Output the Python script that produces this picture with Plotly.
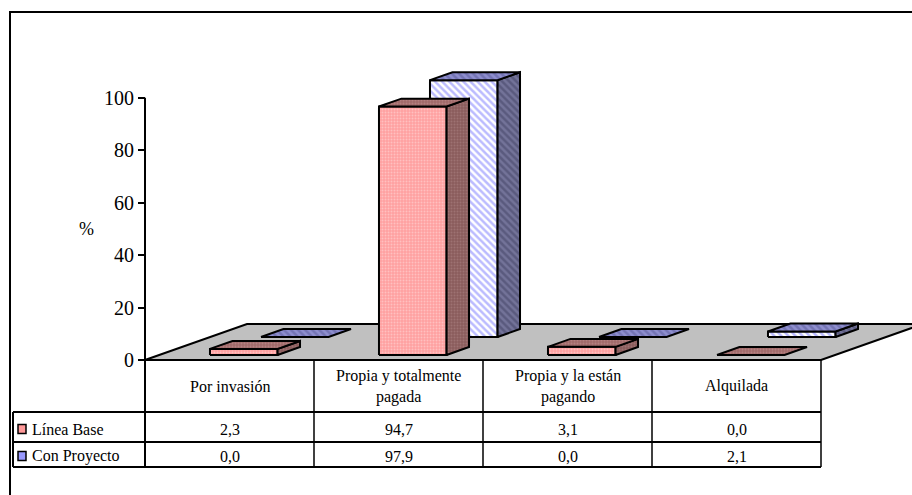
import plotly.graph_objects as go

# ---- data ----
categories = ["Por invasión", "Propia y totalmente<br>pagada", "Propia y la están<br>pagando", "Alquilada"]
series_names = ["Línea Base", "Con Proyecto"]
linea_base = [2.3, 94.7, 3.1, 0.0]
con_proyecto = [0.0, 97.9, 0.0, 2.1]
y_ticks = [0, 20, 40, 60, 80, 100]

W, H = 912, 495
FONT = "Times New Roman, Liberation Serif, serif"

# pixel layout of the value axis / category axis
AX_X = 145.0          # left edge of the category axis (px)
CAT_W = 169.0         # width of one category (px)
ZERO_Y = 360.0        # pixel row of value 0
PX_PER_UNIT = 2.623   # pixels per percentage point
DEPTH_PX = (102.0, -36.0)  # oblique offset of the floor depth (px)

# convert to data units
x_range = [(0 - AX_X) / CAT_W, (W - AX_X) / CAT_W]
y_range = [(ZERO_Y - H) / PX_PER_UNIT, ZERO_Y / PX_PER_UNIT]
DU = DEPTH_PX[0] / CAT_W
DV = -DEPTH_PX[1] / PX_PER_UNIT


def px(x):
    return x / W


def py(y):
    return 1 - y / H


fig = go.Figure()


def face(xs, ys, bg, fg, shape, size=4, solidity=0.4, width=2):
    fig.add_trace(go.Scatter(
        x=xs + [xs[0]], y=ys + [ys[0]], mode="lines", fill="toself",
        fillcolor=bg,
        fillpattern=dict(shape=shape, bgcolor=bg, fgcolor=fg, size=size, solidity=solidity),
        line=dict(color="black", width=width),
        hoverinfo="skip", showlegend=False,
    ))


# floor
n = len(categories)
fig.add_trace(go.Scatter(
    x=[0, n, n + DU, DU, 0], y=[0, 0, DV, DV, 0], mode="lines", fill="toself",
    fillcolor="#C0C0C0", line=dict(color="black", width=2),
    hoverinfo="skip", showlegend=False,
))

styles = [
    # front, side, top (bg, fg, shape)
    dict(front=("#FFA0A0", "#FFE0E0", "."), side=("#8A5C5C", "#B08888", "."),
         top=("#A06A6A", "#C89898", "."), size=3, solidity=0.35),
    dict(front=("#FFFFFF", "#7878FF", "\\"), side=("#5A5A7E", "#8C8CB4", "\\"),
         top=("#7474B4", "#A8A8E8", "\\"), size=5, solidity=0.5),
]
series_values = [linea_base, con_proyecto]
depth_slots = [(0.14, 0.36), (0.64, 0.86)]
bar_lo, bar_hi = 0.30, 0.70

# back series first, then the front one
for s in (1, 0):
    d0, d1 = depth_slots[s]
    st = styles[s]
    for i, v in enumerate(series_values[s]):
        x0 = i + bar_lo + d0 * DU
        x1 = i + bar_hi + d0 * DU
        xb = i + bar_hi + d1 * DU
        xa = i + bar_lo + d1 * DU
        yb0 = d0 * DV
        yb1 = d1 * DV
        if v > 0:
            face([x0, x1, x1, x0], [yb0, yb0, yb0 + v, yb0 + v], *st["front"],
                 size=st["size"], solidity=st["solidity"])
            face([x1, xb, xb, x1], [yb0, yb1, yb1 + v, yb0 + v], *st["side"],
                 size=st["size"], solidity=st["solidity"])
        face([x0, x1, xb, xa], [yb0 + v, yb0 + v, yb1 + v, yb1 + v], *st["top"],
             size=st["size"], solidity=st["solidity"])

shapes = []
# value axis line, continuing as the table's left border
shapes.append(dict(type="line", xref="x", yref="y", x0=0, x1=0, y0=max(y_ticks),
                   y1=(ZERO_Y - 467) / PX_PER_UNIT, line=dict(color="black", width=2)))
# outer frame
shapes.append(dict(type="rect", xref="paper", yref="paper", x0=px(10), x1=px(940),
                   y0=py(12), y1=py(520), line=dict(color="black", width=2)))

# data table grid
row_lines = [412, 442, 467]
for yy in row_lines:
    shapes.append(dict(type="line", xref="paper", yref="paper", x0=px(13),
                       x1=px(AX_X + n * CAT_W), y0=py(yy), y1=py(yy),
                       line=dict(color="black", width=2)))
for i in range(1, n + 1):
    shapes.append(dict(type="line", xref="x", yref="paper", x0=i, x1=i,
                       y0=py(ZERO_Y), y1=py(467), line=dict(color="black", width=1.5)))
shapes.append(dict(type="line", xref="paper", yref="paper", x0=px(13), x1=px(13),
                   y0=py(412), y1=py(467), line=dict(color="black", width=2)))

# legend keys inside the table
key_colors = ["#FF9999", "#9999FF"]
row_centers = [429, 456]
for k, yc in enumerate(row_centers):
    shapes.append(dict(type="rect", xref="paper", yref="paper", x0=px(18), x1=px(26),
                       y0=py(yc - 4.5), y1=py(yc + 4.5), fillcolor=key_colors[k],
                       line=dict(color="black", width=1.5)))

annotations = []
# header row
for i, c in enumerate(categories):
    annotations.append(dict(x=i + 0.5, y=py(386), xref="x", yref="paper", text=c,
                            showarrow=False, font=dict(family=FONT, size=16, color="black"),
                            xanchor="center", yanchor="middle"))
# series rows
for k, (name, vals) in enumerate(zip(series_names, series_values)):
    annotations.append(dict(x=px(30), y=py(row_centers[k]), xref="paper", yref="paper",
                            text=name, showarrow=False, xanchor="left", yanchor="middle",
                            font=dict(family=FONT, size=16, color="black")))
    for i, v in enumerate(vals):
        annotations.append(dict(x=i + 0.5, y=py(row_centers[k]), xref="x", yref="paper",
                                text=f"{v:.1f}".replace(".", ","), showarrow=False,
                                xanchor="center", yanchor="middle",
                                font=dict(family=FONT, size=16, color="black")))
# axis title
annotations.append(dict(x=px(77), y=py(229), xref="paper", yref="paper", text="%",
                        showarrow=False, font=dict(family=FONT, size=18, color="black")))

fig.update_layout(
    width=W, height=H, margin=dict(l=0, r=0, t=0, b=0),
    paper_bgcolor="white", plot_bgcolor="white",
    xaxis=dict(range=x_range, visible=False, fixedrange=True),
    yaxis=dict(range=y_range, anchor="free", position=AX_X / W, showgrid=False,
               zeroline=False, showline=False, tickmode="array", tickvals=y_ticks,
               ticks="outside", ticklen=7, tickwidth=1.5, tickcolor="black",
               tickfont=dict(family=FONT, size=20, color="black"), fixedrange=True),
    shapes=shapes, annotations=annotations, showlegend=False,
)

fig.write_html("out.html")
